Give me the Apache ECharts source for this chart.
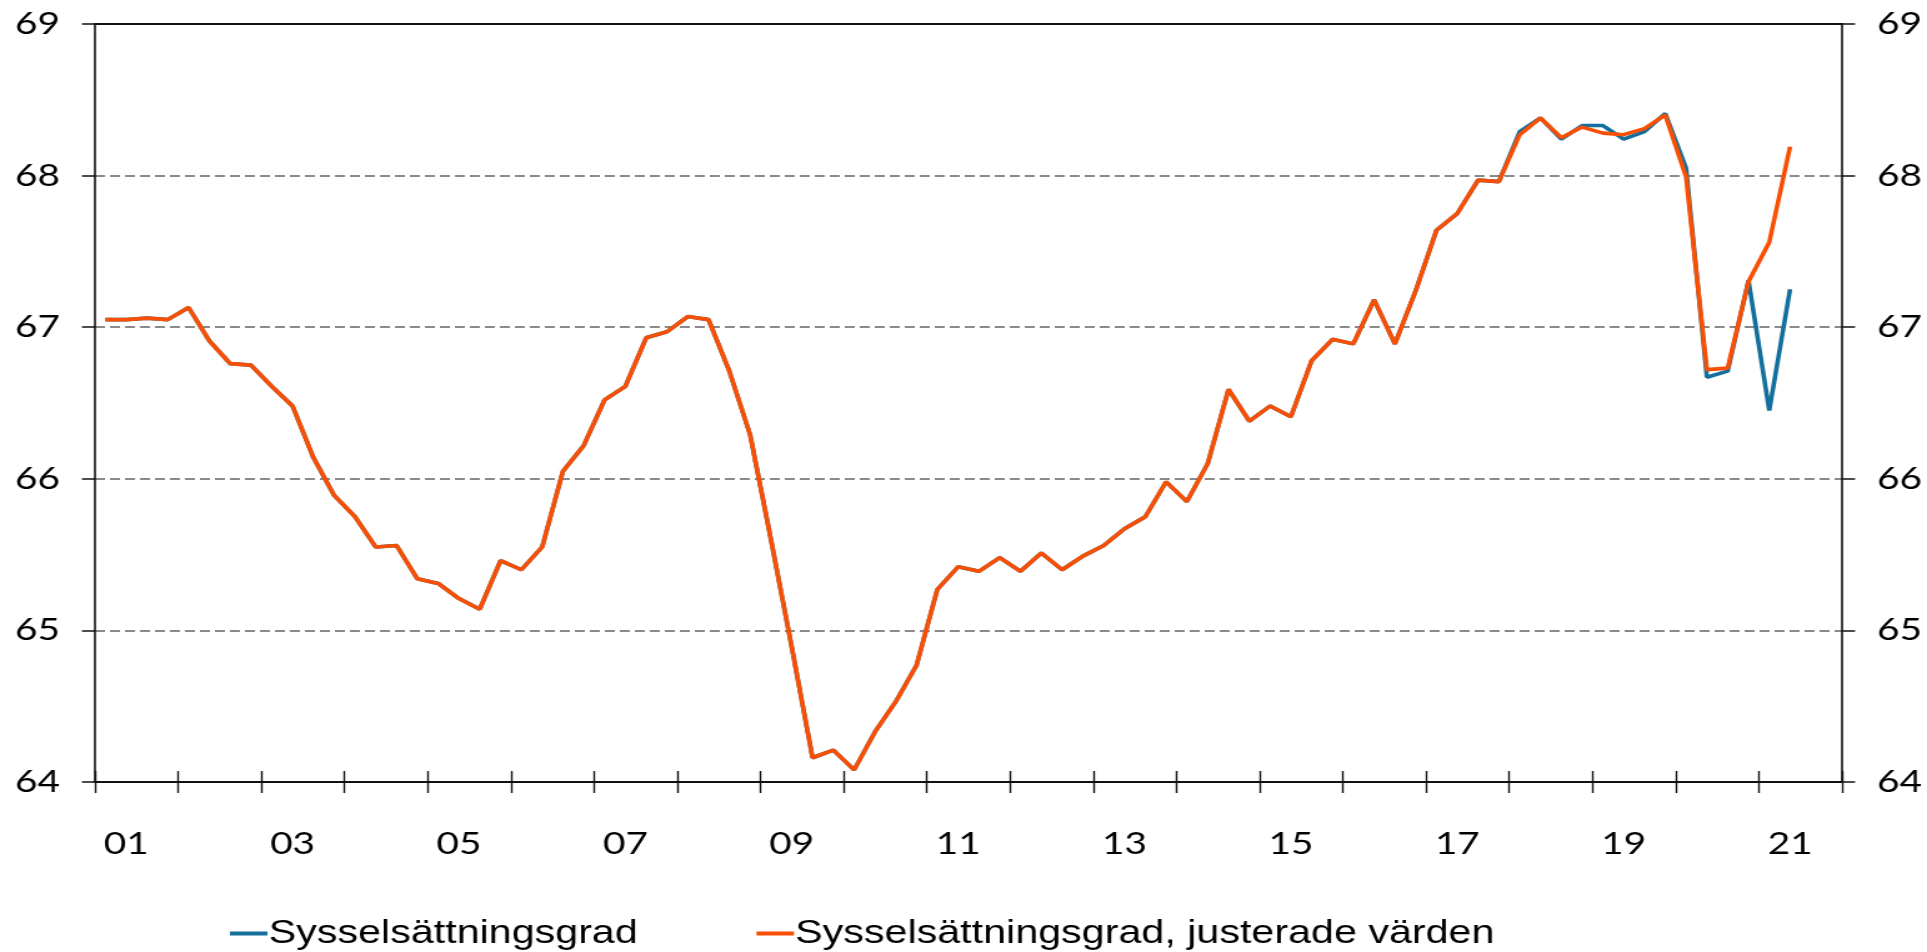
<!DOCTYPE html>
<html>
<head>
<meta charset="utf-8">
<script src="https://cdn.jsdelivr.net/npm/echarts@6/dist/echarts.min.js"></script>
<style>
  html, body { margin: 0; padding: 0; background: #fff; overflow: hidden; }
  /* the reference is stretched sideways, so draw narrow and widen */
  #main { width: 1542px; height: 952px; transform: scaleX(1.2497); transform-origin: 0 0; }
</style>
</head>
<body>
<div id="main"></div>
<script>
// kvartal 2001K1 - 2021K4
var years = [];
for (var y = 2001; y <= 2021; y++) years.push(y);
var quarters = [];
years.forEach(function (y) {
    for (var q = 1; q <= 4; q++) quarters.push(y + 'K' + q);
});

var yTicks = [64, 65, 66, 67, 68, 69];

var sysselsattningsgrad = [
    67.05, 67.05, 67.06, 67.05, 67.13, 66.91, 66.76, 66.75,
    66.61, 66.48, 66.14, 65.89, 65.75, 65.55, 65.56, 65.34,
    65.31, 65.21, 65.14, 65.46, 65.40, 65.55, 66.05, 66.22,
    66.52, 66.61, 66.93, 66.97, 67.07, 67.05, 66.71, 66.29,
    65.60, 64.89, 64.16, 64.21, 64.08, 64.33, 64.53, 64.77,
    65.27, 65.42, 65.39, 65.48, 65.39, 65.51, 65.40, 65.49,
    65.56, 65.67, 65.75, 65.98, 65.85, 66.10, 66.59, 66.38,
    66.48, 66.41, 66.78, 66.92, 66.89, 67.18, 66.89, 67.24,
    67.64, 67.75, 67.97, 67.96, 68.29, 68.38, 68.24, 68.33,
    68.33, 68.24, 68.29, 68.41, 68.05, 66.67, 66.71, 67.31,
    66.45, 67.25
];

var justerade = [
    67.05, 67.05, 67.06, 67.05, 67.13, 66.91, 66.76, 66.75,
    66.61, 66.48, 66.14, 65.89, 65.75, 65.55, 65.56, 65.34,
    65.31, 65.21, 65.14, 65.46, 65.40, 65.55, 66.05, 66.22,
    66.52, 66.61, 66.93, 66.97, 67.07, 67.05, 66.71, 66.29,
    65.60, 64.89, 64.16, 64.21, 64.08, 64.33, 64.53, 64.77,
    65.27, 65.42, 65.39, 65.48, 65.39, 65.51, 65.40, 65.49,
    65.56, 65.67, 65.75, 65.98, 65.85, 66.10, 66.59, 66.38,
    66.48, 66.41, 66.78, 66.92, 66.89, 67.18, 66.89, 67.24,
    67.64, 67.75, 67.97, 67.96, 68.27, 68.38, 68.25, 68.32,
    68.28, 68.27, 68.31, 68.40, 67.99, 66.72, 66.73, 67.30,
    67.56, 68.19
];

var seriesNames = ['Sysselsättningsgrad', 'Sysselsättningsgrad, justerade värden'];
var colors = ['#136f9c', '#f84f04'];

function yAxisOpt(pos, grid) {
    return {
        type: 'value',
        position: pos,
        min: yTicks[0],
        max: yTicks[yTicks.length - 1],
        interval: 1,
        axisLine: { show: true, lineStyle: { color: '#111', width: 1.6 } },
        axisTick: { show: true, length: 10.4, lineStyle: { color: '#111', width: 1.5 } },
        axisLabel: {
            margin: 28,
            color: '#000',
            fontFamily: 'Lato',
            fontSize: 31
        },
        splitLine: {
            show: grid,
            lineStyle: { color: '#8a8a8a', width: 2, type: [8, 4] }
        }
    };
}

function grafico() {
    var myChart = echarts.init(document.getElementById('main'));
    var option = {
        animation: false,
        color: colors,
        grid: { left: 76, right: 68, top: 24, bottom: 170 },
        legend: {
            data: seriesNames,
            left: 179,
            top: 912,
            icon: 'rect',
            itemWidth: 30,
            itemHeight: 4,
            itemGap: 95,
            textStyle: { fontFamily: 'Liberation Sans', fontSize: 33, color: '#000', padding: [0, 0, 0, -4] }
        },
        xAxis: [{
            type: 'category',
            data: quarters,
            boundaryGap: true,
            position: 'bottom',
            axisLine: { show: true, lineStyle: { color: '#111', width: 2 } },
            axisTick: { show: true, interval: 3, length: 11, lineStyle: { color: '#111', width: 1.4 } },
            axisLabel: {
                interval: function (index) { return index % 8 === 1; },
                formatter: function (val) { return val.substr(2, 2); },
                margin: 46,
                color: '#000',
                fontFamily: 'Lato',
                fontSize: 31
            },
            splitLine: { show: false }
        }, {
            // ticks pointing up, so year marks cross the axis
            type: 'category',
            data: quarters,
            boundaryGap: true,
            position: 'bottom',
            axisLine: { show: false },
            axisTick: { show: true, inside: true, interval: 3, length: 11, lineStyle: { color: '#111', width: 1.4 } },
            axisLabel: { show: false },
            splitLine: { show: false }
        }, {
            // black frame line at the top
            type: 'category',
            data: quarters,
            position: 'top',
            axisLine: { show: true, lineStyle: { color: '#111', width: 2 } },
            axisTick: { show: false },
            axisLabel: { show: false },
            splitLine: { show: false }
        }],
        yAxis: [yAxisOpt('left', true), yAxisOpt('right', false)],
        series: [{
            name: seriesNames[0],
            type: 'line',
            data: sysselsattningsgrad,
            symbol: 'none',
            lineStyle: { width: 3.6 }
        }, {
            name: seriesNames[1],
            type: 'line',
            data: justerade,
            symbol: 'none',
            lineStyle: { width: 3.6 }
        }]
    };
    myChart.setOption(option, true);
}

grafico();
</script>
</body>
</html>
